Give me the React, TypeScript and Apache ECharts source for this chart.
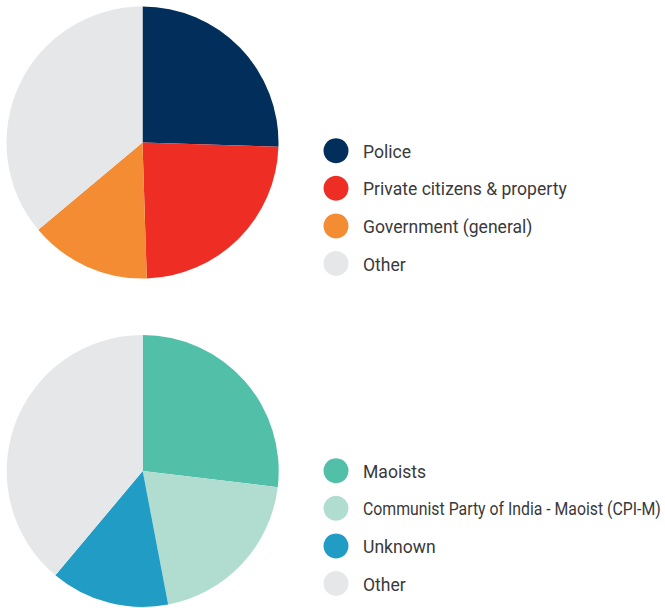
import React, { useEffect, useRef } from "react";
import * as echarts from "echarts";

const targetNames = ["Police", "Private citizens & property", "Government (general)", "Other"];
const targetValues = [25.5, 24.0, 14.4, 36.1];
const targetColors = ["#012E5A", "#EE2E25", "#F48C33", "#E6E7E9"];

const perpNames = ["Maoists", "Communist Party of India - Maoist (CPI-M)", "Unknown", "Other"];
const perpValues = [26.9, 20.1, 14.1, 38.9];
const perpColors = ["#52BFA8", "#B1DDD1", "#219CC4", "#E6E7E9"];

export default function App() {
  const ref = useRef<HTMLDivElement>(null);
  useEffect(() => {
    if (!ref.current) return;
    const chart = echarts.init(ref.current, undefined, { renderer: "svg" });
    const fontSize = 18.5;
    const fontFamily = "Roboto";
    const baseScale = 0.95;
    const maxTextWidth = 298;
    const ctx = document.createElement("canvas").getContext("2d");
    const measure = (t: string) => {
      if (!ctx) return t.length * fontSize * 0.5;
      ctx.font = `${fontSize}px ${fontFamily}`;
      return ctx.measureText(t).width;
    };

    const legendGroup = (names: string[], colors: string[], firstY: number) => {
      const rowGap = 37.6;
      const children: any[] = [];
      names.forEach((n, i) => {
        const cy = firstY + i * rowGap;
        children.push({
          type: "circle",
          shape: { cx: 336, cy, r: 12.5 },
          style: { fill: colors[i] },
          silent: true,
        });
        const w = measure(n);
        const sx = Math.min(baseScale, maxTextWidth / w);
        children.push({
          type: "text",
          x: 363,
          y: cy + 0.5,
          scaleX: sx,
          silent: true,
          style: {
            text: n,
            fontFamily,
            fontSize,
            fill: "#3a3a3a",
            align: "left",
            verticalAlign: "middle",
          },
        });
      });
      return { type: "group", children };
    };

    chart.setOption({
      animation: false,
      graphic: [
        legendGroup(targetNames, targetColors, 150.7),
        legendGroup(perpNames, perpColors, 470.7),
      ],
      series: [
        {
          type: "pie",
          center: [142.5, 142.5],
          radius: 136,
          startAngle: 90,
          clockwise: true,
          label: { show: false },
          labelLine: { show: false },
          emphasis: { disabled: true },
          data: targetNames.map((n, i) => ({
            name: n,
            value: targetValues[i],
            itemStyle: { color: targetColors[i] },
          })),
        },
        {
          type: "pie",
          center: [142.7, 471],
          radius: 136,
          startAngle: 90,
          clockwise: true,
          label: { show: false },
          labelLine: { show: false },
          emphasis: { disabled: true },
          data: perpNames.map((n, i) => ({
            name: n,
            value: perpValues[i],
            itemStyle: { color: perpColors[i] },
          })),
        },
      ],
    });
    return () => chart.dispose();
  }, []);
  return (
    <div
      ref={ref}
      style={{ position: "fixed", left: 0, top: 0, width: 665, height: 608, background: "#fff" }}
    />
  );
}
